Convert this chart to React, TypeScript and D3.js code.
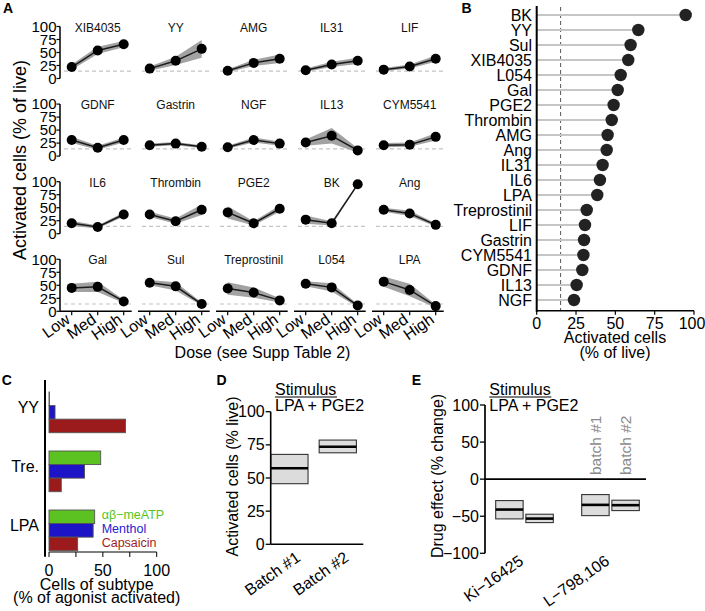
import React from 'react';
import * as d3 from 'd3';

const FONT = 'Liberation Sans, Arial, Helvetica, sans-serif';

// ---------- Panel A data ----------
const doses = ['Low', 'Med', 'High'];
const stimA = ['XIB4035', 'YY', 'AMG', 'IL31', 'LIF', 'GDNF', 'Gastrin', 'NGF', 'IL13', 'CYM5541',
  'IL6', 'Thrombin', 'PGE2', 'BK', 'Ang', 'Gal', 'Sul', 'Treprostinil', 'L054', 'LPA'];
const meanA = [
  [22, 54, 66], [19, 34, 57], [15, 30, 38], [16, 27, 34], [17, 23, 38],
  [31, 16, 31], [21, 24, 18], [17, 31, 24], [26, 39, 11], [21, 22, 37],
  [20, 13, 37], [37, 24, 46], [41, 20, 48], [27, 20, 95], [46, 39, 17],
  [45, 47, 19], [55, 48, 14], [44, 36, 21], [53, 46, 11], [57, 41, 10],
];
const errA = [
  [5, 7, 6], [4, 8, 17], [3, 6, 8], [3, 5, 6], [3, 4, 6],
  [6, 4, 5], [3, 3, 3], [3, 5, 4], [6, 15, 4], [4, 4, 7],
  [5, 3, 4], [5, 5, 10], [12, 4, 6], [8, 4, 2], [4, 5, 3],
  [8, 10, 3], [5, 8, 3], [12, 10, 4], [5, 8, 3], [10, 12, 3],
];
const baselineA = 14;
const yTicksA = [0, 25, 50, 75, 100];

// ---------- Panel B data ----------
const stimB = ['BK', 'YY', 'Sul', 'XIB4035', 'L054', 'Gal', 'PGE2', 'Thrombin', 'AMG', 'Ang', 'IL31', 'IL6',
  'LPA', 'Treprostinil', 'LIF', 'Gastrin', 'CYM5541', 'GDNF', 'IL13', 'NGF'];
const valuesB = [94.7, 64.6, 59.7, 58.2, 53.4, 51.5, 48.9, 47.7, 45.1, 44.5, 41.9, 40.2,
  38.5, 31.8, 30.7, 30.1, 29.7, 29.0, 25.4, 23.7];
const thresholdB = 15.2;
const xTicksB = [0, 25, 50, 75, 100];

// ---------- Panel C data ----------
const groupsC = ['YY', 'Tre.', 'LPA'];
const subtypesC = ['αβ−meATP', 'Menthol', 'Capsaicin'];
const valuesC = [
  [0.5, 5.6, 71],
  [48, 33, 11.4],
  [42.4, 41, 26.6],
];
const colorsC = ['#5cc222', '#1d14c8', '#9b1a1b'];
const textColorsC = ['#56c41c', '#2222d2', '#a01d1d'];
const xTicksC = [0, 25, 50, 75, 100];
const xTickLabelsC = [0, 50, 100];

// ---------- Panel D data ----------
const batchesD = ['Batch #1', 'Batch #2'];
const loD = [45.7, 69];
const medD = [57.3, 73.6];
const hiD = [67.8, 78.6];
const yTicksD = [0, 25, 50, 75, 100];

// ---------- Panel E data ----------
const drugsE = ['Ki−16425', 'L−798,106'];
const batchesE = ['batch #1', 'batch #2'];
const loE = [[-53.6, -58.6], [-49.2, -42.4]];
const medE = [[-41, -53.2], [-34.7, -35.1]];
const hiE = [[-28.9, -47.3], [-20.8, -28.4]];
const yTicksE = [100, 50, 0, -50, -100];

const fmt = (v: number) => (v < 0 ? '−' + Math.abs(v) : String(v));

function PanelA() {
  const colLeft0 = 60, colStep = 78, rowTop0 = 26.5, rowStep = 77.6, rowH = 52;
  const els: React.ReactNode[] = [];
  stimA.forEach((name, k) => {
    const col = k % 5, row = Math.floor(k / 5);
    const left = colLeft0 + col * colStep;
    const right = left + 71.7;
    const top = rowTop0 + row * rowStep;
    const x = d3.scalePoint<string>().domain(doses).range([left + 11.7, left + 63.7]);
    const y = d3.scaleLinear().domain([0, 100]).range([top + rowH, top]);
    const pts = doses.map((d, i) => ({ d, m: meanA[k][i], e: errA[k][i] }));
    const area = d3.area<any>().x(p => x(p.d)!).y0(p => y(p.m - p.e)).y1(p => y(p.m + p.e));
    const line = d3.line<any>().x(p => x(p.d)!).y(p => y(p.m));
    els.push(
      <g key={name}>
        <line x1={left + 4} x2={right} y1={y(baselineA)} y2={y(baselineA)} stroke="#c4c4c4" strokeWidth={1.2} strokeDasharray="4,3" />
        <path d={area(pts)!} fill="#a2a2a2" />
        <path d={line(pts)!} fill="none" stroke="#1a1a1a" strokeWidth={1.5} />
        {pts.map(p => <circle key={p.d} cx={x(p.d)} cy={y(p.m)} r={5} fill="#000" />)}
        <text x={x('Med')} y={top + 5} fontSize={12} textAnchor="middle" fill="#111">{name}</text>
        {col === 0 && (
          <g>
            <line x1={left} x2={left} y1={y(0)} y2={y(100)} stroke="#000" strokeWidth={1.5} />
            {yTicksA.map(t => (
              <g key={t}>
                <line x1={left - 3.5} x2={left} y1={y(t)} y2={y(t)} stroke="#000" strokeWidth={1.2} />
                <text x={left - 3.5} y={y(t) + 5.3} fontSize={15} textAnchor="end">{t}</text>
              </g>
            ))}
          </g>
        )}
        {row === 3 && (
          <g>
            <line x1={left} x2={right} y1={y(0)} y2={y(0)} stroke="#000" strokeWidth={1.5} />
            {doses.map(d => (
              <g key={d}>
                <line x1={x(d)} x2={x(d)} y1={y(0)} y2={y(0) + 4} stroke="#000" strokeWidth={1.2} />
                <text transform={`translate(${x(d)! - 0.5},${y(0) + 10.5}) rotate(-35)`} fontSize={16} textAnchor="end">{d}</text>
              </g>
            ))}
          </g>
        )}
      </g>
    );
  });
  return (
    <g>
      {els}
      <text x={262.5} y={358} fontSize={16} textAnchor="middle">Dose (see Supp Table 2)</text>
      <text transform="translate(26,160) rotate(-90)" fontSize={18} textAnchor="middle">Activated cells (% of live)</text>
      <text x={3} y={13} fontSize={14} fontWeight="bold">A</text>
    </g>
  );
}

function PanelB() {
  const x = d3.scaleLinear().domain([0, 100]).range([536.7, 694]);
  const y = d3.scalePoint<string>().domain(stimB).range([15, 300]);
  const axisY = 310.7;
  return (
    <g>
      <line x1={x(thresholdB)} x2={x(thresholdB)} y1={7} y2={axisY} stroke="#555" strokeWidth={1} strokeDasharray="4,3" />
      {stimB.map((s, i) => (
        <g key={s}>
          <line x1={x(0)} x2={x(valuesB[i])} y1={y(s)} y2={y(s)} stroke="#c6c6c6" strokeWidth={2} />
          <circle cx={x(valuesB[i])} cy={y(s)} r={6.2} fill="#222" />
          <text x={532} y={y(s)! + 5.8} fontSize={16} textAnchor="end">{s}</text>
        </g>
      ))}
      <line x1={x(0)} x2={x(0)} y1={6} y2={axisY + 1} stroke="#000" strokeWidth={2} />
      <line x1={x(0)} x2={x(100)} y1={axisY} y2={axisY} stroke="#000" strokeWidth={1.5} />
      {xTicksB.map(t => (
        <g key={t}>
          <line x1={x(t)} x2={x(t)} y1={axisY} y2={axisY + 4} stroke="#000" strokeWidth={1.2} />
          <text x={t === 100 ? x(t) - 2 : x(t)} y={axisY + 18.5} fontSize={16} textAnchor="middle">{t}</text>
        </g>
      ))}
      <text x={615} y={342.5} fontSize={16} textAnchor="middle">Activated cells</text>
      <text x={615} y={357.5} fontSize={16} textAnchor="middle">(% of live)</text>
      <text x={461.6} y={13} fontSize={14} fontWeight="bold">B</text>
    </g>
  );
}

function PanelC() {
  const x = d3.scaleLinear().domain([0, 100]).range([49, 156.7]);
  const step = 59, pi = 0.31;
  const r0 = 392 - (pi / 2) * step;
  const g = d3.scaleBand<string>().domain(groupsC).range([r0, r0 + 3 * step]).paddingInner(pi).paddingOuter(pi / 2);
  const s = d3.scaleBand<string>().domain(subtypesC).range([0, g.bandwidth()]);
  const axisY = 552;
  return (
    <g>
      {groupsC.map((grp, gi) => (
        <g key={grp}>
          {subtypesC.map((st, si) => (
            <rect key={st} x={x(0)} y={g(grp)! + s(st)!} width={Math.max(x(valuesC[gi][si]) - x(0), 0.5)} height={s.bandwidth()}
              fill={colorsC[si]} stroke="#555" strokeWidth={0.9} />
          ))}
          <text x={39} y={g(grp)! + g.bandwidth() / 2 + 0.5} fontSize={16} textAnchor="end">{grp}</text>
        </g>
      ))}
      <line x1={45} x2={45} y1={380} y2={556.7} stroke="#000" strokeWidth={2} />
      <line x1={x(0)} x2={x(100)} y1={axisY} y2={axisY} stroke="#000" strokeWidth={1} />
      {xTicksC.map(t => (
        <line key={t} x1={x(t)} x2={x(t)} y1={axisY} y2={axisY + 5} stroke="#000" strokeWidth={1} />
      ))}
      {xTickLabelsC.map(t => (
        <text key={t} x={x(t)} y={576} fontSize={16} textAnchor="middle">{t}</text>
      ))}
      {subtypesC.map((st, si) => (
        <text key={st} x={101.7} y={519 + si * 14.2} fontSize={12.5} fill={textColorsC[si]}>{st}</text>
      ))}
      <text x={96.7} y={589.5} fontSize={16} textAnchor="middle">Cells of subtype</text>
      <text x={96.7} y={603} fontSize={16} textAnchor="middle">(% of agonist activated)</text>
      <text x={1.7} y={385} fontSize={14} fontWeight="bold">C</text>
    </g>
  );
}

function Stimulus({ x }: { x: number }) {
  return (
    <g>
      <text x={x} y={394.5} fontSize={16}>Stimulus</text>
      <line x1={x} x2={x + 62} y1={397} y2={397} stroke="#000" strokeWidth={1} />
      <text x={x} y={410.5} fontSize={16}>LPA + PGE2</text>
    </g>
  );
}

function PanelD() {
  const y = d3.scaleLinear().domain([0, 100]).range([544.3, 411.7]);
  const xb = d3.scaleBand<string>().domain(batchesD).range([270.8, 356.4]).paddingInner(0.23).paddingOuter(0);
  const axX = 270.7;
  return (
    <g>
      {batchesD.map((b, i) => (
        <g key={b}>
          <rect x={xb(b)} y={y(hiD[i])} width={xb.bandwidth()} height={y(loD[i]) - y(hiD[i])} fill="#dcdcdc" stroke="#333" strokeWidth={1.1} />
          <line x1={xb(b)} x2={xb(b)! + xb.bandwidth()} y1={y(medD[i])} y2={y(medD[i])} stroke="#000" strokeWidth={2.6} />
          <text transform={`translate(${xb(b)! + xb.bandwidth() / 2 + 12},${560}) rotate(-35)`} fontSize={16} textAnchor="end">{b}</text>
        </g>
      ))}
      <line x1={axX} x2={axX} y1={y(100)} y2={y(0)} stroke="#000" strokeWidth={1.6} />
      <line x1={axX} x2={363.3} y1={y(0)} y2={y(0)} stroke="#000" strokeWidth={1.6} />
      {yTicksD.map(t => (
        <g key={t}>
          <line x1={axX - 5} x2={axX} y1={y(t)} y2={y(t)} stroke="#000" strokeWidth={1.3} />
          <text x={axX - 6} y={y(t) + 5.6} fontSize={16} textAnchor="end">{t}</text>
        </g>
      ))}
      <Stimulus x={275} />
      <text transform="translate(238,476.5) rotate(-90)" fontSize={16} textAnchor="middle">Activated cells (% live)</text>
      <text x={216.5} y={385} fontSize={14} fontWeight="bold">D</text>
    </g>
  );
}

function PanelE() {
  const y = d3.scaleLinear().domain([-100, 100]).range([553.3, 405]);
  const xg = d3.scaleBand<string>().domain(drugsE).range([481.5, 653.5]).paddingInner(0.33).paddingOuter(0.165);
  const xi = d3.scaleBand<string>().domain(batchesE).range([0, xg.bandwidth()]).paddingInner(0.09);
  const axX = 485;
  return (
    <g>
      <line x1={axX} x2={646} y1={y(0)} y2={y(0)} stroke="#000" strokeWidth={1.7} />
      {drugsE.map((d, di) => (
        <g key={d}>
          {batchesE.map((b, bi) => {
            const x0 = xg(d)! + xi(b)!;
            return (
              <g key={b}>
                <rect x={x0} y={y(hiE[di][bi])} width={xi.bandwidth()} height={y(loE[di][bi]) - y(hiE[di][bi])} fill="#dcdcdc" stroke="#333" strokeWidth={1.1} />
                <line x1={x0} x2={x0 + xi.bandwidth()} y1={y(medE[di][bi])} y2={y(medE[di][bi])} stroke="#000" strokeWidth={2.6} />
                {di === 1 && (
                  <text transform={`translate(${x0 + xi.bandwidth() / 2 + 5.5},475) rotate(-90)`} fontSize={15.5} fill="#8a8a8a">{b}</text>
                )}
              </g>
            );
          })}
          <text transform={`translate(${xg(d)! + xg.bandwidth() / 2},563.5) rotate(-35)`} fontSize={16} textAnchor="end">{d}</text>
        </g>
      ))}
      <line x1={axX} x2={axX} y1={y(100)} y2={y(-100)} stroke="#000" strokeWidth={1.7} />
      {yTicksE.map(t => (
        <g key={t}>
          <line x1={axX - 5} x2={axX} y1={y(t)} y2={y(t)} stroke="#000" strokeWidth={1.3} />
          <text x={axX - 6} y={y(t) + 5.6} fontSize={16} textAnchor="end">{fmt(t)}</text>
        </g>
      ))}
      <Stimulus x={489.3} />
      <text transform="translate(443,476) rotate(-90)" fontSize={16} textAnchor="middle">Drug effect (% change)</text>
      <text x={411.7} y={384.5} fontSize={14} fontWeight="bold">E</text>
    </g>
  );
}

export default function App() {
  return (
    <svg width={705} height={611} style={{ position: 'absolute', left: 0, top: 0, background: '#fff' }}
      fontFamily={FONT}>
      <rect width={705} height={611} fill="#fff" />
      <PanelA />
      <PanelB />
      <PanelC />
      <PanelD />
      <PanelE />
    </svg>
  );
}
